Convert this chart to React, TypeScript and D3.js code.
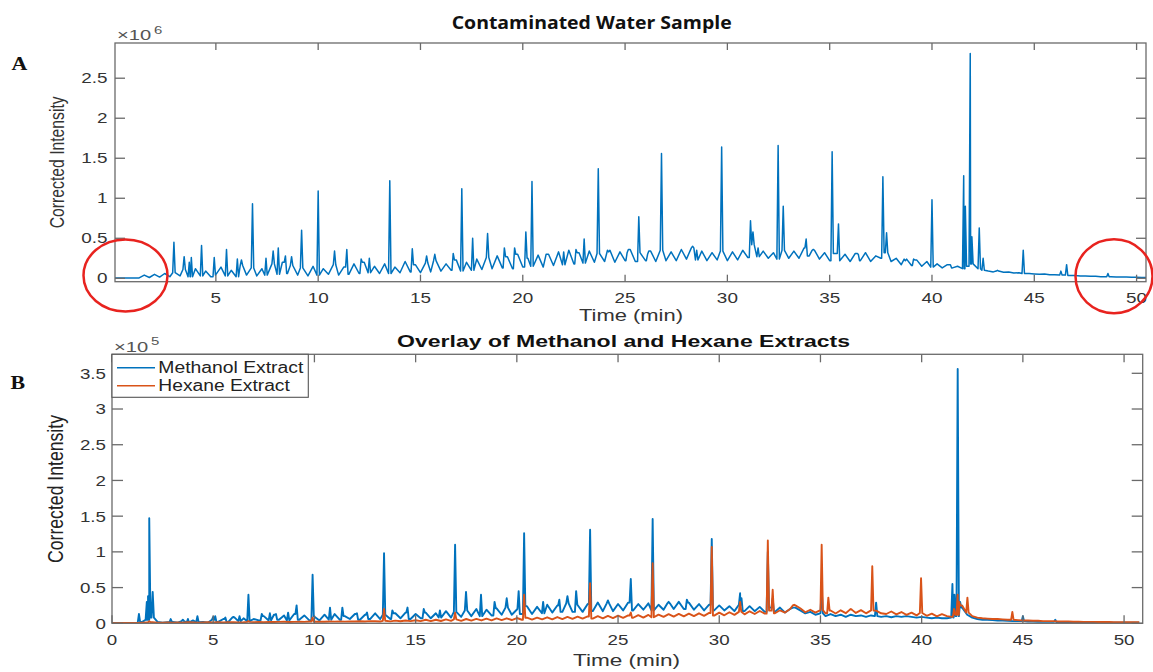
import React from "react";
import * as d3 from "d3";

// sampling step (min) of the baseline arrays below
const STEP = 0.25;

// Panel A: contaminated water sample, baseline (×1e6) sampled every 0.25 min from t = 0
const waterBaseline = [
  0.005, 0.005, 0.005, 0.005, 0.005, 0.005,
  0.04, 0.01, 0.05, 0.015, 0.06, 0.02, 0.07,
  0.03, 0.11, 0.02, 0.12, 0.03, 0.09, 0.02, 0.04,
  0.14, 0.03, 0.1, 0.02, 0.16, 0.04, 0.13, 0.03,
  0.12, 0.04, 0.18, 0.05, 0.2, 0.06, 0.16, 0.04,
  0.13, 0.03, 0.15, 0.04, 0.12, 0.05, 0.17, 0.04,
  0.14, 0.05, 0.18, 0.06, 0.2, 0.07, 0.15, 0.06,
  0.18, 0.06, 0.14, 0.07, 0.21, 0.08, 0.17, 0.07,
  0.19, 0.08, 0.22, 0.09, 0.18, 0.1, 0.23, 0.09,
  0.2, 0.1, 0.24, 0.11, 0.26, 0.12, 0.28, 0.13,
  0.27, 0.12, 0.3, 0.14, 0.25, 0.15, 0.29, 0.14,
  0.3, 0.16, 0.33, 0.17, 0.35, 0.18, 0.32, 0.19,
  0.34, 0.2, 0.31, 0.21, 0.35, 0.2, 0.33, 0.22,
  0.36, 0.21, 0.32, 0.22, 0.34, 0.21, 0.35, 0.22,
  0.33, 0.22, 0.36, 0.24, 0.38, 0.23, 0.34, 0.22,
  0.32, 0.23, 0.34, 0.22, 0.33, 0.23, 0.35, 0.26,
  0.42, 0.27, 0.34, 0.25, 0.32, 0.24, 0.35, 0.25,
  0.34, 0.25, 0.38, 0.28, 0.35, 0.24, 0.32, 0.22,
  0.31, 0.22, 0.3, 0.21, 0.31, 0.22, 0.32, 0.21,
  0.28, 0.25, 0.32, 0.21, 0.25, 0.17, 0.24, 0.16,
  0.23, 0.15, 0.21, 0.14, 0.18, 0.13, 0.17, 0.13,
  0.15, 0.12, 0.15, 0.18, 0.12, 0.1, 0.09, 0.08,
  0.09, 0.075, 0.08, 0.065, 0.07, 0.06, 0.06, 0.055,
  0.05, 0.055, 0.045, 0.045, 0.04, 0.04, 0.035, 0.035,
  0.03, 0.03, 0.025, 0.025, 0.02, 0.02, 0.02, 0.015,
  0.015, 0.015, 0.012, 0.012, 0.01, 0.01,
];

// Panel A peaks: [time (min), apex intensity ×1e6]
const waterPeaks: [number, number][] = [
  [2.95, 0.45], [3.45, 0.27], [3.7, 0.2], [3.8, 0.26], [4.3, 0.41], [4.92, 0.26],
  [5.52, 0.36], [6.05, 0.24], [6.25, 0.23], [6.79, 0.93], [7.45, 0.25], [7.8, 0.34],
  [8.05, 0.38], [8.4, 0.28], [8.7, 0.27], [9.19, 0.6], [10.0, 1.09], [10.8, 0.34],
  [11.4, 0.36], [12.1, 0.24], [12.5, 0.25], [13.5, 1.22], [14.6, 0.37], [15.3, 0.28],
  [15.7, 0.3], [16.6, 0.31], [17.02, 1.12], [17.55, 0.5], [18.28, 0.56], [19.1, 0.38],
  [19.6, 0.38], [20.15, 0.58], [20.45, 1.21], [21.2, 0.3], [22.0, 0.33], [22.6, 0.36],
  [23.0, 0.49], [23.69, 1.37], [24.2, 0.33], [25.1, 0.32], [25.67, 0.77], [26.1, 0.3],
  [26.78, 1.56], [28.3, 0.4], [28.5, 0.35], [29.72, 1.64], [31.13, 0.72], [31.25, 0.58],
  [31.5, 0.38], [32.48, 1.66], [32.73, 0.9], [33.85, 0.49], [34.2, 0.36], [35.12, 1.58],
  [35.43, 0.68], [36.4, 0.3], [37.6, 1.27], [37.78, 0.57], [38.7, 0.22], [39.1, 0.24],
  [40.0, 0.98], [40.9, 0.17], [41.55, 1.28], [41.63, 0.9], [41.87, 2.81], [41.95, 0.52],
  [42.31, 0.63], [42.5, 0.25], [43.2, 0.1], [44.46, 0.35], [46.3, 0.09], [46.58, 0.17],
  [48.6, 0.06],
];

// Panel B: methanol extract baseline (×1e5), every 0.25 min from t = 0
const methanolBaseline = [
  0.005, 0.005, 0.005, 0.005, 0.005, 0.005,
  0.02, 0.05, 0.08, 0.02, 0.01, 0.015, 0.02,
  0.01, 0.03, 0.01, 0.04, 0.015, 0.02, 0.01, 0.05,
  0.02, 0.06, 0.02, 0.08, 0.03, 0.07, 0.03, 0.06,
  0.04, 0.1, 0.04, 0.12, 0.05, 0.11, 0.04, 0.13,
  0.05, 0.11, 0.04, 0.1, 0.04, 0.12, 0.05, 0.13,
  0.05, 0.1, 0.06, 0.13, 0.05, 0.12, 0.06, 0.14,
  0.06, 0.12, 0.06, 0.14, 0.07, 0.15, 0.06, 0.13,
  0.07, 0.15, 0.07, 0.14, 0.08, 0.17, 0.08, 0.16,
  0.09, 0.18, 0.1, 0.2, 0.1, 0.19, 0.11, 0.21,
  0.12, 0.22, 0.12, 0.2, 0.13, 0.24, 0.13, 0.23,
  0.14, 0.26, 0.15, 0.25, 0.16, 0.28, 0.16, 0.26,
  0.16, 0.27, 0.17, 0.29, 0.17, 0.28, 0.17, 0.27,
  0.18, 0.29, 0.18, 0.27, 0.19, 0.28, 0.18, 0.26,
  0.19, 0.28, 0.2, 0.3, 0.2, 0.29, 0.19, 0.27,
  0.18, 0.26, 0.18, 0.25, 0.18, 0.24, 0.17, 0.26,
  0.17, 0.24, 0.17, 0.23, 0.16, 0.22, 0.16, 0.22,
  0.15, 0.2, 0.22, 0.18, 0.14, 0.16, 0.12, 0.14,
  0.1, 0.13, 0.1, 0.12, 0.09, 0.12, 0.1, 0.11,
  0.09, 0.11, 0.1, 0.09, 0.1, 0.085, 0.1, 0.09,
  0.1, 0.09, 0.08, 0.09, 0.08, 0.07, 0.08, 0.07,
  0.07, 0.08, 0.1, 0.22, 0.12, 0.08, 0.06, 0.05,
  0.05, 0.045, 0.04, 0.04, 0.035, 0.03, 0.03, 0.03,
  0.025, 0.025, 0.02, 0.02, 0.02, 0.02, 0.015, 0.015,
  0.015, 0.015, 0.012, 0.012, 0.01, 0.01, 0.01, 0.01,
  0.01, 0.01, 0.008, 0.008, 0.008, 0.008, 0.008,
];

const methanolPeaks: [number, number][] = [
  [1.33, 0.13], [1.72, 0.3], [1.78, 0.38], [1.84, 1.47], [2.01, 0.44], [2.9, 0.06],
  [3.5, 0.05], [3.75, 0.06], [4.22, 0.1], [5.0, 0.09], [5.1, 0.1], [5.6, 0.08],
  [6.0, 0.09], [6.3, 0.1], [6.74, 0.4], [7.4, 0.13], [7.8, 0.14], [8.1, 0.13],
  [8.7, 0.15], [9.12, 0.25], [9.91, 0.68], [10.77, 0.22], [11.38, 0.22], [12.1, 0.14],
  [12.6, 0.15], [13.44, 0.98], [13.85, 0.18], [14.6, 0.22], [15.4, 0.2], [16.2, 0.18],
  [16.95, 1.1], [17.49, 0.44], [18.23, 0.4], [18.9, 0.3], [19.5, 0.35], [20.09, 0.45],
  [20.36, 1.26], [21.3, 0.3], [22.1, 0.33], [22.5, 0.38], [22.93, 0.45], [23.62, 1.31],
  [24.5, 0.32], [25.63, 0.62], [26.71, 1.46], [27.5, 0.3], [28.4, 0.33], [29.63, 1.18],
  [31.03, 0.42], [31.1, 0.35], [32.4, 1.0], [32.64, 0.35], [33.7, 0.22], [35.06, 0.5],
  [37.75, 0.29], [41.52, 0.55], [41.62, 0.4], [41.78, 3.56], [41.9, 0.3], [45.0, 0.1],
  [46.6, 0.05],
];

// Panel B: hexane extract baseline (×1e5), every 0.25 min from t = 0
const hexaneBaseline = [
  0.005, 0.005, 0.005, 0.005, 0.005, 0.005,
  0.01, 0.012, 0.015, 0.01, 0.01, 0.012, 0.01,
  0.012, 0.01, 0.015, 0.012, 0.01, 0.012, 0.014, 0.012,
  0.015, 0.012, 0.016, 0.014, 0.013, 0.015, 0.02, 0.016,
  0.018, 0.016, 0.02, 0.018, 0.02, 0.022, 0.019, 0.02,
  0.022, 0.02, 0.025, 0.022, 0.024, 0.022, 0.025, 0.023,
  0.025, 0.024, 0.027, 0.025, 0.028, 0.026, 0.03, 0.028,
  0.025, 0.035, 0.027, 0.038, 0.028, 0.04, 0.03, 0.042,
  0.03, 0.05, 0.03, 0.05, 0.032, 0.055, 0.035, 0.055,
  0.035, 0.06, 0.038, 0.062, 0.04, 0.065, 0.042, 0.068,
  0.045, 0.07, 0.046, 0.074, 0.05, 0.078, 0.052, 0.08,
  0.055, 0.084, 0.056, 0.088, 0.06, 0.09, 0.062, 0.094,
  0.065, 0.096, 0.066, 0.1, 0.07, 0.104, 0.072, 0.108,
  0.076, 0.11, 0.078, 0.114, 0.08, 0.118, 0.084, 0.122,
  0.09, 0.128, 0.094, 0.132, 0.098, 0.136, 0.1, 0.14,
  0.105, 0.145, 0.108, 0.15, 0.112, 0.155, 0.118, 0.16,
  0.125, 0.168, 0.13, 0.172, 0.135, 0.178, 0.14, 0.182,
  0.15, 0.2, 0.25, 0.21, 0.155, 0.19, 0.15, 0.185,
  0.14, 0.18, 0.138, 0.182, 0.142, 0.188, 0.145, 0.184,
  0.14, 0.18, 0.178, 0.14, 0.13, 0.165, 0.125, 0.158,
  0.118, 0.15, 0.11, 0.145, 0.105, 0.135, 0.098, 0.128,
  0.1, 0.09, 0.12, 0.25, 0.15, 0.1, 0.08, 0.07,
  0.065, 0.06, 0.06, 0.055, 0.05, 0.05, 0.045, 0.04,
  0.04, 0.035, 0.035, 0.03, 0.03, 0.03, 0.025, 0.025,
  0.025, 0.022, 0.022, 0.02, 0.02, 0.02, 0.018, 0.018,
  0.018, 0.016, 0.016, 0.015, 0.015, 0.015, 0.015,
];

const hexanePeaks: [number, number][] = [
  [1.84, 0.03], [6.74, 0.03], [9.91, 0.08], [13.44, 0.2], [16.95, 0.15], [20.36, 0.4],
  [23.62, 0.56], [25.63, 0.15], [26.71, 0.84], [29.63, 1.07], [31.03, 0.3], [32.4, 1.16],
  [32.64, 0.47], [33.7, 0.26], [35.06, 1.1], [35.39, 0.36], [36.5, 0.2], [37.56, 0.8],
  [39.97, 0.63], [41.6, 0.2], [41.78, 0.4], [41.85, 0.3], [42.26, 0.36], [44.48, 0.16],
];

const xTicksA = [5, 10, 15, 20, 25, 30, 35, 40, 45, 50];
const yTicksA = [0, 0.5, 1, 1.5, 2, 2.5];
const xTicksB = [0, 5, 10, 15, 20, 25, 30, 35, 40, 45, 50];
const yTicksB = [0, 0.5, 1, 1.5, 2, 2.5, 3, 3.5];

const titleA = "Contaminated Water Sample";
const titleB = "Overlay of Methanol and Hexane Extracts";
const seriesNames = ["Methanol Extract", "Hexane Extract"];

const BLUE = "#0072BD";
const ORANGE = "#D95319";
const AXIS = "#6a6a6a";
const TICKTXT = "#333333";
const SANS = "'Liberation Sans', Arial, sans-serif";

function buildTrace(baseline: number[], peaks: [number, number][], hw = 0.06) {
  const near = (t: number) =>
    baseline[Math.min(baseline.length - 1, Math.max(0, Math.round(t / STEP)))];
  const pts: [number, number][] = baseline
    .map((v, i) => [i * STEP, v] as [number, number])
    .filter(([t]) => !peaks.some(([pt]) => Math.abs(pt - t) < hw * 1.5));
  peaks.forEach(([t, h]) => {
    pts.push([t - hw, near(t - hw)], [t, h], [t + hw, near(t + hw)]);
  });
  pts.sort((a, b) => a[0] - b[0]);
  return pts;
}

const fmt = (v: number) => String(v);

function Axes(props: {
  left: number; right: number; top: number; bottom: number;
  x: d3.ScaleLinear<number, number>; y: d3.ScaleLinear<number, number>;
  xTicks: number[]; yTicks: number[]; xLen: number; yLen: number;
  xLabelBase: number; yLabelRight: number; fontSize: number; sx: number;
}) {
  const { left, right, top, bottom, x, y, xTicks, yTicks, xLen, yLen, xLabelBase, yLabelRight, fontSize, sx } = props;
  return (
    <g>
      <rect x={left} y={top} width={right - left} height={bottom - top} fill="none" stroke={AXIS} strokeWidth={1.3} />
      {xTicks.map((t) => (
        <g key={"x" + t}>
          <line x1={x(t)} x2={x(t)} y1={bottom} y2={bottom - xLen} stroke={AXIS} strokeWidth={1.3} />
          <line x1={x(t)} x2={x(t)} y1={top} y2={top + xLen} stroke={AXIS} strokeWidth={1.3} />
          <text transform={`translate(${x(t)},${xLabelBase}) scale(${sx},1)`} textAnchor="middle"
            fontFamily={SANS} fontSize={fontSize} fill={TICKTXT}>{fmt(t)}</text>
        </g>
      ))}
      {yTicks.map((t) => (
        <g key={"y" + t}>
          <line x1={left} x2={left + yLen} y1={y(t)} y2={y(t)} stroke={AXIS} strokeWidth={1.3} />
          <line x1={right} x2={right - yLen} y1={y(t)} y2={y(t)} stroke={AXIS} strokeWidth={1.3} />
          <text transform={`translate(${yLabelRight},${y(t) + fontSize * 0.36}) scale(${sx},1)`} textAnchor="end"
            fontFamily={SANS} fontSize={fontSize} fill={TICKTXT}>{fmt(t)}</text>
        </g>
      ))}
    </g>
  );
}

export default function App() {
  // Panel A geometry
  const A = { left: 115, right: 1146, top: 43, bottom: 281.7 };
  const xA = d3.scaleLinear().domain([0.07, 50.46]).range([A.left, A.right]);
  const yA = d3.scaleLinear().domain([-0.0425, 2.94]).range([A.bottom, A.top]);
  // Panel B geometry
  const B = { left: 112, right: 1142.7, top: 354.3, bottom: 623.3 };
  const xB = d3.scaleLinear().domain([0, 50.92]).range([B.left, B.right]);
  const yB = d3.scaleLinear().domain([0, 3.766]).range([B.bottom, B.top]);

  const lineA = d3.line<[number, number]>().x((d) => xA(d[0])).y((d) => yA(d[1]));
  const lineB = d3.line<[number, number]>().x((d) => xB(d[0])).y((d) => yB(d[1]));

  const water = buildTrace(waterBaseline, waterPeaks);
  const methanol = buildTrace(methanolBaseline, methanolPeaks);
  const hexane = buildTrace(hexaneBaseline, hexanePeaks);

  return (
    <svg width={1153} height={672} style={{ position: "absolute", left: 0, top: 0, background: "#fff" }}>
      <defs>
        <clipPath id="clipA"><rect x={A.left} y={A.top} width={A.right - A.left} height={A.bottom - A.top} /></clipPath>
        <clipPath id="clipB"><rect x={B.left} y={B.top} width={B.right - B.left} height={B.bottom - B.top} /></clipPath>
      </defs>
      <rect width={1153} height={672} fill="#fff" />

      {/* Panel A */}
      <text x={591.7} y={28.5} textAnchor="middle" fontFamily="'Open Sans', sans-serif" fontWeight={700}
        fontSize={17} textLength={280} lengthAdjust="spacingAndGlyphs" fill="#111">{titleA}</text>
      <text transform="translate(11.5,70) scale(1.15,1)" fontFamily="'Liberation Serif', serif" fontWeight={700} fontSize={19} fill="#111">A</text>
      <text transform="translate(117,39.5) scale(1.3,1)" fontFamily={SANS} fontSize={15.5} fill="#555">×10</text>
      <text transform="translate(154,33.5) scale(1.3,1)" fontFamily={SANS} fontSize={11.5} fill="#555">6</text>
      <g clipPath="url(#clipA)">
        <path d={lineA(water) || ""} fill="none" stroke={BLUE} strokeWidth={1.5} strokeLinejoin="round" />
      </g>
      <Axes left={A.left} right={A.right} top={A.top} bottom={A.bottom} x={xA} y={yA}
        xTicks={xTicksA} yTicks={yTicksA} xLen={7} yLen={10} xLabelBase={302.5} yLabelRight={107.5}
        fontSize={14} sx={1.35} />
      <text transform="translate(64,162.3) scale(1.4,1) rotate(-90)" textAnchor="middle" fontFamily={SANS}
        fontSize={14} textLength={132} lengthAdjust="spacingAndGlyphs" fill="#333">Corrected Intensity</text>
      <text x={631} y={321} textAnchor="middle" fontFamily={SANS} fontSize={16} textLength={104}
        lengthAdjust="spacingAndGlyphs" fill="#333">Time (min)</text>

      {/* red highlight ellipses */}
      <ellipse cx={125.5} cy={275.5} rx={42} ry={36} fill="none" stroke="#e8231f" strokeWidth={2.5} />
      <ellipse cx={1114} cy={276.3} rx={38.5} ry={37} fill="none" stroke="#e8231f" strokeWidth={2.5} />

      {/* Panel B */}
      <text x={623.5} y={346.5} textAnchor="middle" fontFamily={SANS} fontWeight={700}
        fontSize={17} textLength={453} lengthAdjust="spacingAndGlyphs" fill="#111">{titleB}</text>
      <text transform="translate(10.5,388.5) scale(1.15,1)" fontFamily="'Liberation Serif', serif" fontWeight={700} fontSize={19} fill="#111">B</text>
      <text transform="translate(114,351.5) scale(1.3,1)" fontFamily={SANS} fontSize={15.5} fill="#555">×10</text>
      <text transform="translate(151,344.5) scale(1.3,1)" fontFamily={SANS} fontSize={11.5} fill="#555">5</text>
      <g clipPath="url(#clipB)">
        <path d={lineB(methanol) || ""} fill="none" stroke={BLUE} strokeWidth={1.9} strokeLinejoin="round" />
        <path d={lineB(hexane) || ""} fill="none" stroke={ORANGE} strokeWidth={1.9} strokeLinejoin="round" />
      </g>
      <Axes left={B.left} right={B.right} top={B.top} bottom={B.bottom} x={xB} y={yB}
        xTicks={xTicksB} yTicks={yTicksB} xLen={8} yLen={11} xLabelBase={645} yLabelRight={106}
        fontSize={15} sx={1.25} />
      <text transform="translate(63,489) scale(1.4,1) rotate(-90)" textAnchor="middle" fontFamily={SANS}
        fontSize={16} textLength={148} lengthAdjust="spacingAndGlyphs" fill="#222">Corrected Intensity</text>
      <text x={626.5} y={666} textAnchor="middle" fontFamily={SANS} fontSize={17} textLength={107}
        lengthAdjust="spacingAndGlyphs" fill="#333">Time (min)</text>

      {/* Legend */}
      <rect x={112} y={354.3} width={196.3} height={43} fill="#fff" stroke="#555" strokeWidth={1.1} />
      <line x1={117} x2={155} y1={367.7} y2={367.7} stroke={BLUE} strokeWidth={1.5} />
      <line x1={117} x2={155} y1={385.7} y2={385.7} stroke={ORANGE} strokeWidth={1.5} />
      <text x={158.3} y={373.3} fontFamily={SANS} fontSize={16} textLength={145} lengthAdjust="spacingAndGlyphs" fill="#222">{seriesNames[0]}</text>
      <text x={158.3} y={391.3} fontFamily={SANS} fontSize={16} textLength={131.5} lengthAdjust="spacingAndGlyphs" fill="#222">{seriesNames[1]}</text>
    </svg>
  );
}
